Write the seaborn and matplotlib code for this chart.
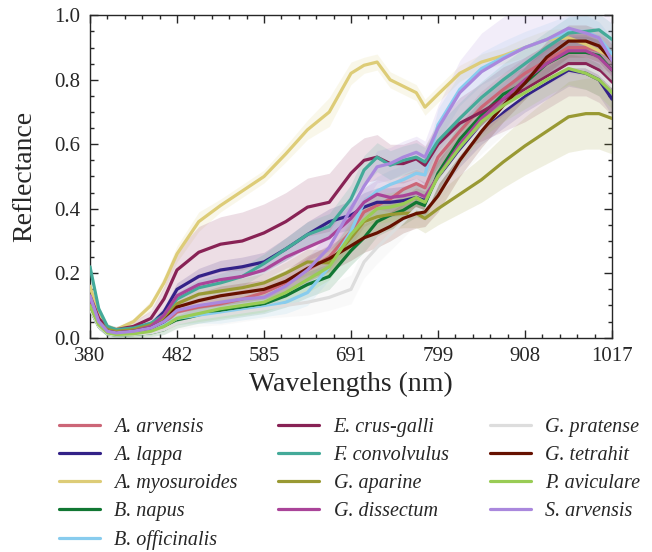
import matplotlib
matplotlib.use('Agg')
import matplotlib.pyplot as plt
from matplotlib.ticker import AutoMinorLocator, MultipleLocator, FormatStrFormatter
import seaborn as sns
import pandas as pd

# band index (ticks every 20 bands) and the wavelengths shown at the ticks
bands = [0, 2, 4, 6, 10, 14, 17, 20, 25, 30, 35, 40, 45, 50, 55, 60, 63, 66,
         69, 72, 75, 77, 80, 85, 90, 95, 100, 105, 110, 114, 117, 120]
tick_bands = [0, 20, 40, 60, 80, 100, 120]
tick_nm = ["380", "482", "585", "691", "799", "908", "1017"]

species = ["A. arvensis", "A. lappa", "A. myosuroides", "B. napus", "B. officinalis",
           "E. crus-galli", "F. convolvulus", "G. aparine", "G. dissectum",
           "G. pratense", "G. tetrahit", "P. aviculare", "S. arvensis"]
colors = ["#CC6677", "#332288", "#DDCC77", "#117733", "#88CCEE", "#882255",
          "#44AA99", "#999933", "#AA4499", "#DDDDDD", "#661100", "#99CC55", "#AA88DD"]

a_arvensis = [0.10, 0.045, 0.02, 0.015, 0.02, 0.03, 0.045, 0.08, 0.095, 0.105, 0.12, 0.14,
              0.17, 0.21, 0.25, 0.33, 0.39, 0.41, 0.43, 0.46, 0.478, 0.465, 0.56, 0.64,
              0.715, 0.77, 0.82, 0.86, 0.90, 0.90, 0.89, 0.87]
a_lappa = [0.12, 0.05, 0.025, 0.02, 0.025, 0.04, 0.08, 0.15, 0.19, 0.21, 0.22, 0.235,
           0.275, 0.32, 0.36, 0.38, 0.405, 0.42, 0.42, 0.425, 0.435, 0.425, 0.50, 0.58,
           0.65, 0.70, 0.75, 0.79, 0.83, 0.82, 0.80, 0.74]
a_myosuroides = [0.16, 0.07, 0.035, 0.025, 0.05, 0.10, 0.17, 0.26, 0.36, 0.41, 0.455, 0.50,
                 0.57, 0.645, 0.70, 0.82, 0.845, 0.855, 0.80, 0.78, 0.76, 0.715, 0.755, 0.82,
                 0.855, 0.875, 0.90, 0.925, 0.93, 0.91, 0.89, 0.87]
b_napus = [0.09, 0.035, 0.012, 0.008, 0.01, 0.015, 0.025, 0.05, 0.07, 0.085, 0.095, 0.105,
           0.13, 0.165, 0.19, 0.27, 0.31, 0.36, 0.38, 0.395, 0.42, 0.41, 0.51, 0.615,
           0.69, 0.755, 0.79, 0.85, 0.885, 0.885, 0.875, 0.83]
b_officinalis = [0.10, 0.04, 0.015, 0.01, 0.015, 0.025, 0.04, 0.06, 0.07, 0.075, 0.085, 0.095,
                 0.11, 0.14, 0.22, 0.33, 0.42, 0.455, 0.475, 0.49, 0.51, 0.505, 0.66, 0.77,
                 0.835, 0.87, 0.90, 0.925, 0.95, 0.95, 0.93, 0.88]
e_crus_galli = [0.13, 0.06, 0.03, 0.025, 0.035, 0.06, 0.12, 0.21, 0.265, 0.29, 0.30, 0.325,
                0.36, 0.405, 0.42, 0.51, 0.55, 0.56, 0.54, 0.54, 0.555, 0.535, 0.60, 0.665,
                0.70, 0.74, 0.77, 0.81, 0.85, 0.85, 0.83, 0.79]
f_convolvulus = [0.22, 0.09, 0.035, 0.025, 0.03, 0.045, 0.07, 0.12, 0.155, 0.17, 0.19, 0.23,
                 0.275, 0.32, 0.345, 0.43, 0.52, 0.56, 0.535, 0.55, 0.56, 0.545, 0.61, 0.68,
                 0.745, 0.80, 0.85, 0.90, 0.945, 0.95, 0.955, 0.925]
g_aparine = [0.11, 0.05, 0.025, 0.02, 0.025, 0.04, 0.06, 0.105, 0.135, 0.145, 0.155, 0.17,
             0.20, 0.235, 0.232, 0.31, 0.36, 0.375, 0.382, 0.386, 0.386, 0.37, 0.40, 0.445,
             0.49, 0.545, 0.595, 0.64, 0.685, 0.695, 0.695, 0.68]
g_dissectum = [0.12, 0.05, 0.02, 0.015, 0.02, 0.035, 0.07, 0.13, 0.165, 0.18, 0.19, 0.21,
               0.25, 0.28, 0.31, 0.37, 0.42, 0.445, 0.435, 0.44, 0.45, 0.437, 0.50, 0.60,
               0.68, 0.74, 0.80, 0.85, 0.89, 0.89, 0.87, 0.83]
g_pratense = [0.09, 0.035, 0.012, 0.008, 0.01, 0.015, 0.025, 0.045, 0.06, 0.07, 0.08, 0.09,
              0.10, 0.11, 0.125, 0.15, 0.235, 0.28, 0.32, 0.36, 0.40, 0.39, 0.48, 0.57,
              0.65, 0.71, 0.76, 0.80, 0.84, 0.84, 0.82, 0.78]
g_tetrahit = [0.10, 0.045, 0.02, 0.015, 0.02, 0.03, 0.05, 0.095, 0.115, 0.13, 0.14, 0.15,
              0.175, 0.215, 0.245, 0.285, 0.31, 0.325, 0.345, 0.37, 0.385, 0.39, 0.44, 0.55,
              0.64, 0.72, 0.79, 0.87, 0.92, 0.92, 0.905, 0.86]
p_aviculare = [0.10, 0.04, 0.015, 0.01, 0.012, 0.02, 0.035, 0.06, 0.075, 0.09, 0.10, 0.11,
               0.14, 0.18, 0.22, 0.32, 0.365, 0.40, 0.405, 0.415, 0.435, 0.42, 0.50, 0.59,
               0.67, 0.72, 0.76, 0.80, 0.835, 0.82, 0.80, 0.76]
s_arvensis = [0.13, 0.05, 0.02, 0.015, 0.02, 0.03, 0.05, 0.085, 0.10, 0.11, 0.12, 0.125,
              0.16, 0.21, 0.28, 0.40, 0.47, 0.53, 0.54, 0.56, 0.575, 0.56, 0.65, 0.76,
              0.825, 0.865, 0.90, 0.925, 0.96, 0.945, 0.93, 0.86]

# standard deviation around each mean spectrum
sd_small = [0.01, 0.01, 0.008, 0.008, 0.01, 0.012, 0.015, 0.02, 0.025, 0.03, 0.03, 0.03,
            0.035, 0.04, 0.04, 0.045, 0.045, 0.045, 0.045, 0.045, 0.045, 0.045, 0.05, 0.05,
            0.05, 0.05, 0.05, 0.05, 0.05, 0.05, 0.05, 0.05]
sd_a_myosuroides = [0.01, 0.01, 0.008, 0.008, 0.01, 0.015, 0.02, 0.025, 0.03, 0.02, 0.02, 0.02,
                    0.025, 0.03, 0.045, 0.035, 0.025, 0.025, 0.025, 0.025, 0.025, 0.025, 0.025,
                    0.025, 0.025, 0.025, 0.03, 0.03, 0.03, 0.03, 0.03, 0.03]
sd_e_crus_galli = [0.01, 0.01, 0.01, 0.01, 0.015, 0.025, 0.04, 0.06, 0.08, 0.085, 0.09, 0.09,
                   0.09, 0.09, 0.09, 0.08, 0.07, 0.07, 0.06, 0.06, 0.06, 0.06, 0.07, 0.08,
                   0.09, 0.10, 0.10, 0.10, 0.10, 0.10, 0.10, 0.10]
sd_g_aparine = [0.01, 0.01, 0.008, 0.008, 0.01, 0.012, 0.015, 0.02, 0.025, 0.03, 0.03, 0.03,
                0.035, 0.04, 0.04, 0.045, 0.045, 0.045, 0.045, 0.045, 0.045, 0.045, 0.05, 0.06,
                0.07, 0.08, 0.09, 0.10, 0.11, 0.11, 0.11, 0.11]
sd_g_pratense = [0.01, 0.01, 0.008, 0.008, 0.01, 0.012, 0.015, 0.02, 0.025, 0.03, 0.03, 0.03,
                 0.035, 0.04, 0.04, 0.045, 0.05, 0.05, 0.05, 0.05, 0.05, 0.05, 0.06, 0.07,
                 0.08, 0.08, 0.08, 0.09, 0.09, 0.09, 0.09, 0.09]
sd_s_arvensis = [0.01, 0.01, 0.008, 0.008, 0.01, 0.012, 0.015, 0.02, 0.025, 0.03, 0.03, 0.03,
                 0.035, 0.04, 0.045, 0.05, 0.05, 0.05, 0.05, 0.05, 0.05, 0.05, 0.07, 0.10,
                 0.12, 0.13, 0.14, 0.14, 0.14, 0.13, 0.13, 0.12]

means = [a_arvensis, a_lappa, a_myosuroides, b_napus, b_officinalis, e_crus_galli,
         f_convolvulus, g_aparine, g_dissectum, g_pratense, g_tetrahit, p_aviculare, s_arvensis]
sds = [sd_small, sd_small, sd_a_myosuroides, sd_small, sd_small, sd_e_crus_galli,
       sd_small, sd_g_aparine, sd_small, sd_g_pratense, sd_small, sd_small, sd_s_arvensis]

rows = []
for name, m, s in zip(species, means, sds):
    for b, v, e in zip(bands, m, s):
        rows.append({"band": b, "reflectance": v, "sd": e, "species": name})
df = pd.DataFrame(rows)

sns.set_style("ticks")
plt.rcParams["font.family"] = ["Liberation Serif", "DejaVu Serif"]

fig = plt.figure(figsize=(6.52, 5.52), dpi=100)
ax = fig.add_axes([90 / 652, 1 - 337.7 / 552, 522 / 652, 322.4 / 552])

palette = dict(zip(species, colors))
for name in species:
    sub = df[df["species"] == name]
    ax.fill_between(sub["band"], sub["reflectance"] - sub["sd"], sub["reflectance"] + sub["sd"],
                    color=palette[name], alpha=0.15, linewidth=0, zorder=1)

sns.lineplot(data=df, x="band", y="reflectance", hue="species", hue_order=species,
             palette=palette, linewidth=2.3, ax=ax, zorder=3)

ax.set_xlim(0, 120)
ax.set_ylim(0, 1.0)
ax.set_xticks(tick_bands)
ax.set_xticklabels(tick_nm)
ax.xaxis.set_minor_locator(AutoMinorLocator(5))
ax.yaxis.set_major_locator(MultipleLocator(0.2))
ax.yaxis.set_minor_locator(AutoMinorLocator(4))
ax.yaxis.set_major_formatter(FormatStrFormatter("%.1f"))
ax.tick_params(which="both", direction="in", top=True, right=True, labelsize=15,
               width=1, pad=7)
ax.tick_params(which="major", length=6)
ax.tick_params(which="minor", length=3)
for sp in ax.spines.values():
    sp.set_linewidth(1.0)
ax.set_xlabel("Wavelengths (nm)", fontsize=20, labelpad=4)
ax.set_ylabel("Reflectance", fontsize=20, labelpad=12)

handles, labels = ax.get_legend_handles_labels()
ax.get_legend().remove()
fig.legend(handles, labels, ncol=3, loc="upper left", bbox_to_anchor=(59 / 652, 1 - 417.5 / 552),
           frameon=False, prop={"style": "italic", "size": 14.5}, borderpad=0, borderaxespad=0,
           handlelength=2.05, handletextpad=0.7, columnspacing=2.0, labelspacing=0.45)

fig.savefig("out.png", dpi=100)
